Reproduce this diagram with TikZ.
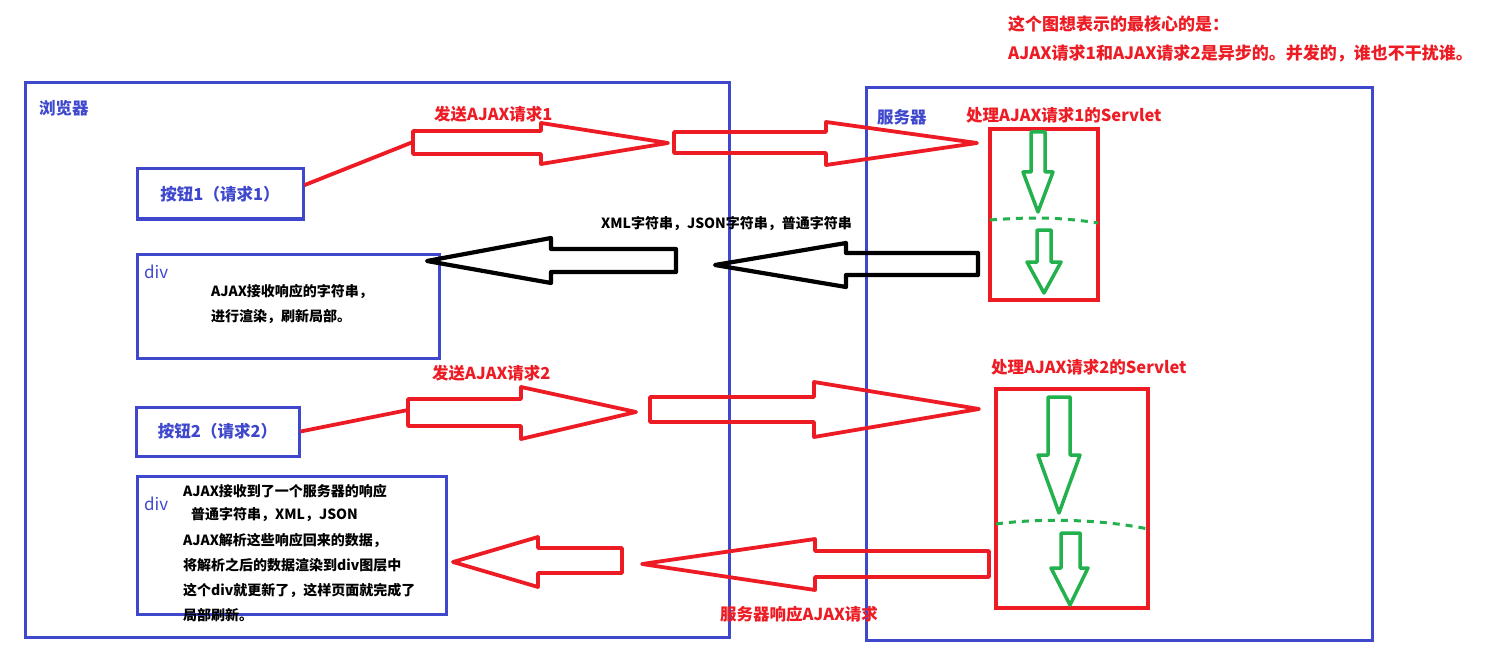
\documentclass[tikz,border=0pt]{standalone}
\usepackage{fontspec}
\setmainfont{Noto Sans CJK SC}
\definecolor{boxblue}{HTML}{3F48CC}
\definecolor{reqred}{HTML}{ED1C24}
\definecolor{stepgreen}{HTML}{22B14C}
\newcommand{\headf}{\fontsize{16.5}{18}\selectfont\bfseries}
\newcommand{\notef}{\fontsize{17}{19}\selectfont\bfseries}
\newcommand{\bodyf}{\fontsize{14}{16}\selectfont\bfseries}
\newcommand{\divf}{\fontsize{17}{19}\selectfont}

\begin{document}
\begin{tikzpicture}[x=1pt,y=-1pt,
  bluebox/.style={draw=boxblue,line width=3pt,inner sep=0},
  redbox/.style={draw=reqred,line width=3.5pt,inner sep=0},
  redarr/.style={draw=reqred,line width=3.8pt,line join=round},
  blackarr/.style={draw=black,line width=4.2pt,line join=round},
  greenarr/.style={draw=stepgreen,line width=3.5pt,line join=round},
  greendash/.style={draw=stepgreen,line width=3pt,dash pattern=on 7pt off 6pt},
  lbl/.style={anchor=west,inner sep=0,font=\headf},
  body/.style={anchor=west,inner sep=0,font=\bodyf}]
\useasboundingbox (0,0) rectangle (1512,655);
% browser side
\node[bluebox,minimum width=704pt,minimum height=554pt] (browser) at (377,360) {};
\node[lbl,text=boxblue] (browsertitle) at (39,108) {浏览器};
\node[bluebox,minimum width=166pt,minimum height=50pt,font=\headf,text=boxblue] (btn1) at (220,194) {按钮1（请求1）};
\node[bluebox,minimum width=302pt,minimum height=104pt] (div1) at (288,306) {};
\node[anchor=west,inner sep=0,font=\divf,text=boxblue] (div1tag) at (144,272) {div};
\node[body] (div1a) at (211,292) {AJAX接收响应的字符串，};
\node[body] (div1b) at (211,317) {进行渲染，刷新局部。};
\node[bluebox,minimum width=163pt,minimum height=49pt,font=\headf,text=boxblue] (btn2) at (217.5,431.5) {按钮2（请求2）};
\node[bluebox,minimum width=309pt,minimum height=138pt] (div2) at (291.5,545) {};
\node[anchor=west,inner sep=0,font=\divf,text=boxblue] (div2tag) at (144,504) {div};
\node[body] (div2a) at (183,491) {AJAX接收到了一个服务器的响应};
\node[body] (div2b) at (191,515) {普通字符串，XML，JSON};
\node[body] (div2c) at (183,540) {AJAX解析这些响应回来的数据，};
\node[body] (div2d) at (183,565) {将解析之后的数据渲染到div图层中};
\node[body] (div2e) at (183,590) {这个div就更新了，这样页面就完成了};
\node[body] (div2f) at (183,615) {局部刷新。};
% server side
\node[bluebox,minimum width=506pt,minimum height=552pt] (server) at (1119,364) {};
\node[lbl,text=boxblue] (servertitle) at (877,117) {服务器};
\node[redbox,minimum width=108pt,minimum height=171pt] (servlet1) at (1044,214.5) {};
\node[lbl,text=reqred] (servlet1title) at (966,115) {处理AJAX请求1的Servlet};
\node[redbox,minimum width=152pt,minimum height=219pt] (servlet2) at (1072,498.5) {};
\node[lbl,text=reqred] (servlet2title) at (991,367) {处理AJAX请求2的Servlet};
% note
\node[lbl,font=\notef,text=reqred] (note1) at (1008,24) {这个图想表示的最核心的是：};
\node[lbl,font=\notef,text=reqred] (note2) at (1008,53) {AJAX请求1和AJAX请求2是异步的。并发的，谁也不干扰谁。};
% request 1
\node[lbl,text=reqred] (send1) at (434,114) {发送AJAX请求1};
\coordinate (req1tail) at (413,142);
\draw[reqred,line width=3.8pt] (btn1.6) -- (req1tail);
\draw[redarr] (413,131) -- (541,131) -- (541,123) -- (668,143) -- (541,164) -- (541,154) -- (413,154) -- cycle;
\draw[redarr] (674,132) -- (826,132) -- (826,122) -- (977,143) -- (826,165) -- (826,153) -- (674,153) -- cycle;
% response 1
\node[anchor=west,inner sep=0,font=\bodyf] (resp1) at (601,224) {XML字符串，JSON字符串，普通字符串};
\draw[blackarr] (676,249) -- (551,249) -- (551,238) -- (427,261) -- (551,283) -- (551,272) -- (676,272) -- cycle;
\draw[blackarr] (978,253) -- (846,253) -- (846,243) -- (715,265) -- (846,287) -- (846,275) -- (978,275) -- cycle;
% request 2
\node[lbl,text=reqred] (send2) at (432,373) {发送AJAX请求2};
\coordinate (req2tail) at (408,410);
\draw[reqred,line width=3.8pt] (btn2.east) -- (req2tail);
\draw[redarr] (408,399) -- (521,399) -- (521,387) -- (636,412) -- (521,439) -- (521,426) -- (408,426) -- cycle;
\draw[redarr] (650,397) -- (814,397) -- (814,382) -- (979,409) -- (814,437) -- (814,422) -- (650,422) -- cycle;
% response 2
\draw[redarr] (622,548) -- (538,548) -- (538,537) -- (453,562) -- (538,587) -- (538,573) -- (622,573) -- cycle;
\draw[redarr] (989,551) -- (815,551) -- (815,539) -- (642,564) -- (815,590) -- (815,577) -- (989,577) -- cycle;
\node[lbl,text=reqred] (resp2) at (720,614) {服务器响应AJAX请求};
% servlet steps
\draw[greenarr] (1031,132) -- (1045,132) -- (1045,172) -- (1053,172) -- (1038,212) -- (1023,172) -- (1031,172) -- cycle;
\draw[greendash] (990,220) .. controls (1030,217) and (1060,217) .. (1098,223);
\draw[greenarr] (1037,230) -- (1051,230) -- (1051,262) -- (1061,262) -- (1044,293) -- (1027,262) -- (1037,262) -- cycle;
\draw[greenarr] (1048,397) -- (1070,397) -- (1070,455) -- (1080,455) -- (1059,513) -- (1038,455) -- (1048,455) -- cycle;
\draw[greendash] (996,524) .. controls (1040,518) and (1100,519) .. (1148,529);
\draw[greenarr] (1061,533) -- (1080,533) -- (1080,568) -- (1088,568) -- (1070,605) -- (1051,568) -- (1061,568) -- cycle;
\end{tikzpicture}
\end{document}
